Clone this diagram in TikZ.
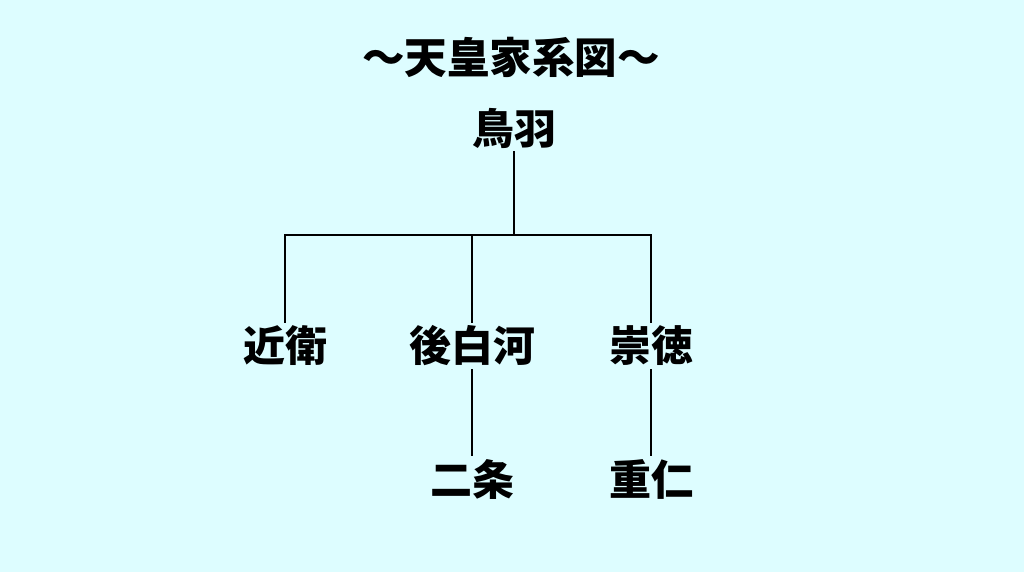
\documentclass[tikz,border=0pt]{standalone}
\usepackage{fontspec}
\newfontfamily\jpfont{Noto Sans CJK JP}
\usepackage{tikz}

\definecolor{bgcyan}{RGB}{221,253,255}

\tikzset{
    person/.style={font=\jpfont\bfseries\fontsize{42}{42}\selectfont, inner sep=3pt},
    branch/.style={line width=2pt, black}
}

\begin{document}
\begin{tikzpicture}[x=1pt, y=-1pt]
\fill[bgcyan] (0,0) rectangle (1024,572);

\node[person, font=\jpfont\bfseries\fontsize{42.5}{42.5}\selectfont] (title) at (511,57) {〜天皇家系図〜};

\node[person] (toba) at (514,128) {鳥羽};

\node[person] (konoe)       at (285,346) {近衛};
\node[person] (goshirakawa) at (472,346) {後白河};
\node[person] (sutoku)      at (651,346) {崇徳};

\node[person] (nijo)      at (472,479) {二条};
\node[person] (shigehito) at (651,479) {重仁};

\coordinate (bar) at (0,235);

\draw[branch] (toba.south) -- (toba.south |- bar);
\draw[branch] (konoe.north) -- (konoe.north |- bar) -- (sutoku.north |- bar) -- (sutoku.north);
\draw[branch] (goshirakawa.north) -- (goshirakawa.north |- bar);

\draw[branch] (goshirakawa.south) -- (nijo.north);
\draw[branch] (sutoku.south) -- (shigehito.north);
\end{tikzpicture}
\end{document}
